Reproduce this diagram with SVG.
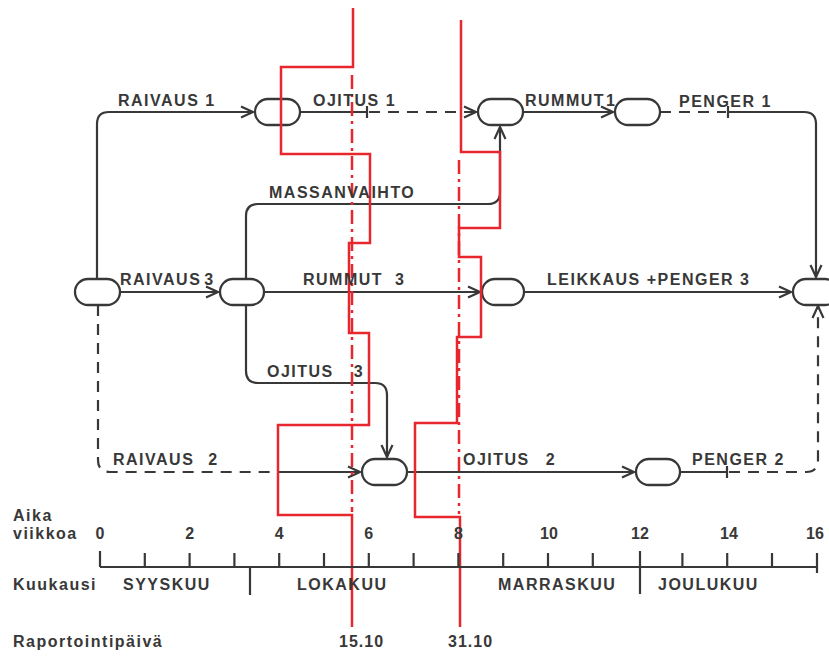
<svg xmlns="http://www.w3.org/2000/svg" width="829" height="656" viewBox="0 0 829 656">
<defs>
<marker id="arr" viewBox="0 0 14 14" refX="13" refY="7" markerWidth="14" markerHeight="14" markerUnits="userSpaceOnUse" orient="auto">
<path d="M1,1.5 L13,7 L1,12.5" fill="none" stroke="#383838" stroke-width="2.2"/>
</marker>
<style>
.lbl{font-family:"Liberation Sans",Arial,sans-serif;font-weight:bold;font-size:16px;letter-spacing:1.5px;fill:#383838}
.num{font-family:"Liberation Sans",Arial,sans-serif;font-weight:bold;font-size:16px;fill:#383838}
.node rect{fill:#fff;stroke:#383838;stroke-width:2.3}
.ln{fill:none;stroke:#383838;stroke-width:2.2}
.dash{stroke-dasharray:11 8}
.red{fill:none;stroke:#e8262d;stroke-width:2.5}
.reddash{fill:none;stroke:#e8262d;stroke-width:2.5;stroke-dasharray:14 5 3 5}
.ax{fill:none;stroke:#383838;stroke-width:2.2}
</style>
</defs>
<rect width="829" height="656" fill="#fff"/>

<g id="connectors">
<path class="ln" d="M97,279 V124 Q97,112 109,112 H253" marker-end="url(#arr)"/>
<path class="ln" d="M300,112 H367 M367,106 V118"/>
<path class="ln dash" d="M369,112 H476" marker-end="url(#arr)"/>
<path class="ln" d="M523,112 H613" marker-end="url(#arr)"/>
<path class="ln dash" d="M660,112 H726"/>
<path class="ln" d="M728,106 V118 M728,112 H804 Q816,112 816,124 V277" marker-end="url(#arr)"/>
<path class="ln" d="M246,279 V216 Q246,204 258,204 H488 Q500,204 500,192 V127" marker-end="url(#arr)"/>
<path class="ln" d="M120,292 H218" marker-end="url(#arr)"/>
<path class="ln" d="M264,292 H480" marker-end="url(#arr)"/>
<path class="ln" d="M524,292 H791" marker-end="url(#arr)"/>
<path class="ln" d="M246,305 V371 Q246,383 258,383 H375 Q387,383 387,395 V457" marker-end="url(#arr)"/>
<path class="ln dash" d="M98,305 V460 Q98,472 110,472 H280"/>
<path class="ln" d="M280,472 H360" marker-end="url(#arr)"/>
<path class="ln" d="M407,472 H634" marker-end="url(#arr)"/>
<path class="ln" d="M680,472 H727 M727,466 V478"/>
<path class="ln dash" d="M729,472 H806 Q818,472 818,460 V306" marker-end="url(#arr)"/>
</g>

<g id="node-a" class="node"><rect x="75" y="279" width="45" height="26" rx="13"/></g>
<g id="node-b" class="node"><rect x="220" y="279" width="44" height="26" rx="13"/></g>
<g id="node-c" class="node"><rect x="255" y="99" width="45" height="26" rx="13"/></g>
<g id="node-d" class="node"><rect x="478" y="99" width="45" height="26" rx="13"/></g>
<g id="node-e" class="node"><rect x="615" y="99" width="45" height="26" rx="13"/></g>
<g id="node-f" class="node"><rect x="793" y="279" width="45" height="26" rx="13"/></g>
<g id="node-g" class="node"><rect x="482" y="279" width="42" height="26" rx="13"/></g>
<g id="node-h" class="node"><rect x="362" y="459" width="45" height="26" rx="13"/></g>
<g id="node-i" class="node"><rect x="636" y="459" width="44" height="26" rx="13"/></g>

<g id="report-lines">
<path class="red" d="M353,8 V67 H281 V154 H370 V243 H349 V333 H369 V425 H278 V515 H352 V627"/>
<path class="reddash" d="M352,75 V512"/>
<path class="red" d="M461,20 V152 H500 V228 H459 V257 H481 V337 H457 V423 H415 V517 H460 V627"/>
<path class="reddash" d="M459,160 V514"/>
</g>

<g id="labels">
<text class="lbl" x="118" y="106">RAIVAUS 1</text>
<text class="lbl" x="313" y="106">OJITUS 1</text>
<text class="lbl" x="525" y="106" word-spacing="-5">RUMMUT 1</text>
<text class="lbl" x="679" y="107">PENGER 1</text>
<text class="lbl" x="269" y="198">MASSANVAIHTO</text>
<text class="lbl" x="120" y="285" word-spacing="-3">RAIVAUS 3</text>
<text class="lbl" x="303" y="285" word-spacing="6">RUMMUT 3</text>
<text class="lbl" x="547" y="285">LEIKKAUS +PENGER 3</text>
<text class="lbl" x="267" y="377" word-spacing="14">OJITUS 3</text>
<text class="lbl" x="113" y="465" word-spacing="8">RAIVAUS 2</text>
<text class="lbl" x="463" y="465" word-spacing="10">OJITUS 2</text>
<text class="lbl" x="692" y="465">PENGER 2</text>
</g>

<g id="axis">
<path class="ax" d="M100,567 H817 M100,551 V567 M144.8,553 V567 M189.6,553 V567 M234.4,553 V567 M279.2,553 V567 M324,553 V567 M368.8,553 V567 M413.6,553 V567 M458.4,553 V567 M503.2,553 V567 M548,553 V567 M592.8,553 V567 M682.4,553 V567 M727.2,553 V567 M772,553 V567 M817,553 V573 M250,567 V595 M640,551 V594"/>
<text class="lbl" x="13" y="521">Aika</text>
<text class="lbl" x="13" y="539">viikkoa</text>
<g class="num" text-anchor="middle">
<text x="100" y="539">0</text>
<text x="189.6" y="539">2</text>
<text x="279.2" y="539">4</text>
<text x="368.8" y="539">6</text>
<text x="458.4" y="539">8</text>
<text x="549" y="539">10</text>
<text x="640" y="539">12</text>
<text x="729" y="539">14</text>
<text x="815" y="539">16</text>
</g>
<text class="lbl" x="13" y="590">Kuukausi</text>
<text class="lbl" x="123" y="590">SYYSKUU</text>
<text class="lbl" x="297" y="590">LOKAKUU</text>
<text class="lbl" x="498" y="590">MARRASKUU</text>
<text class="lbl" x="658" y="590">JOULUKUU</text>
<text class="lbl" x="13" y="647">Raportointipäivä</text>
<text class="num" x="339" y="647" letter-spacing="1">15.10</text>
<text class="num" x="448" y="647" letter-spacing="1">31.10</text>
</g>
</svg>
